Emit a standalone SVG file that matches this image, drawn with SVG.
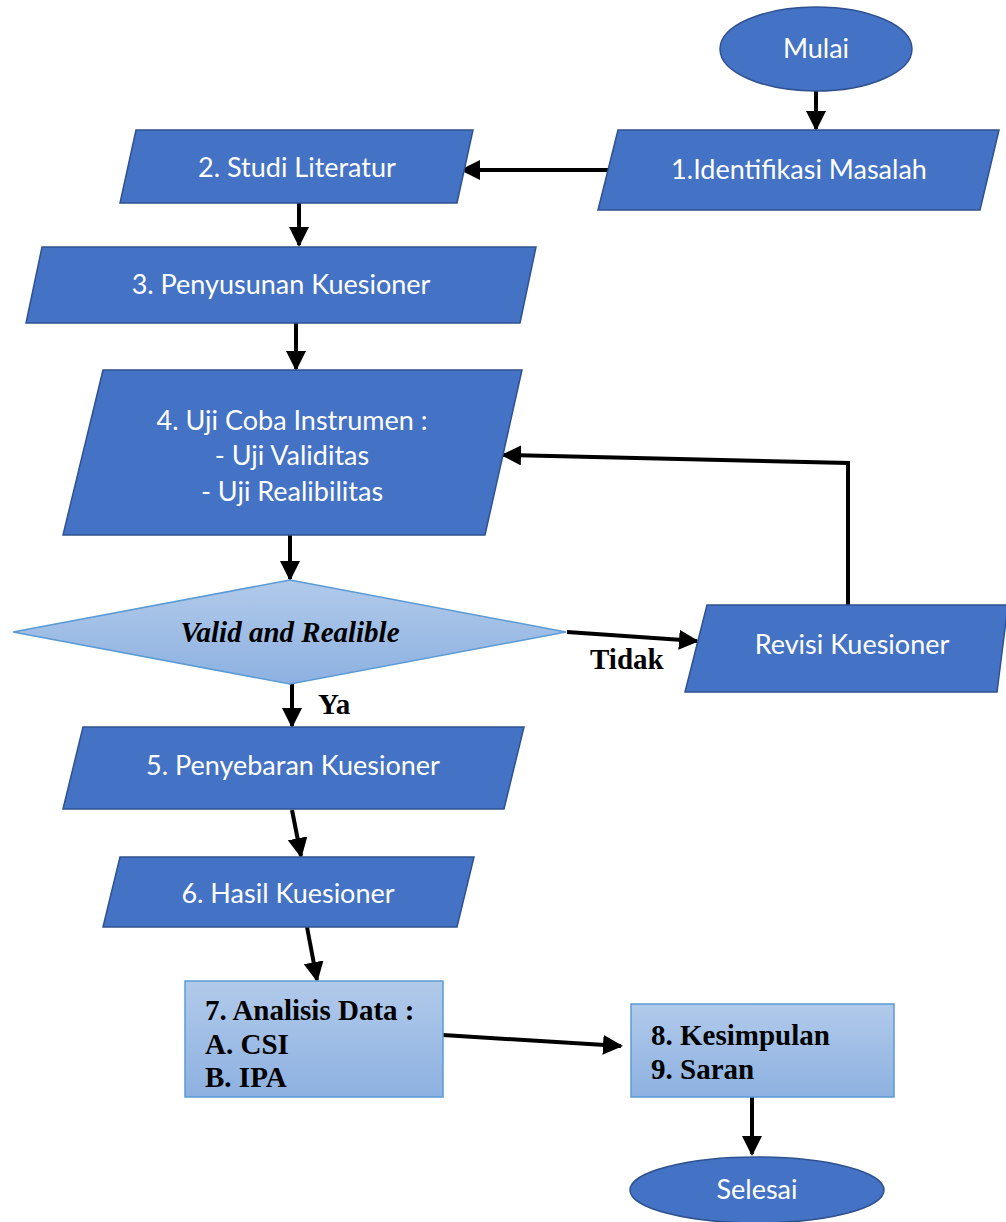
<svg xmlns="http://www.w3.org/2000/svg" width="1006" height="1222" viewBox="0 0 1006 1222">
<style>
.dk{fill:#4472C4;stroke:#2F528F;stroke-width:1.5}
.lt{fill:url(#lg);stroke:#5B9BD5;stroke-width:1.5}
.wt{font-family:Lato,"Noto Sans",sans-serif;font-size:27px;fill:#fff;text-anchor:middle}
.bt{font-family:"Liberation Serif","Times New Roman",serif;font-weight:bold;font-size:29px;fill:#000}
.cn{fill:none;stroke:#000;stroke-width:4}
</style>
<defs>
<linearGradient id="lg" x1="0" y1="0" x2="0" y2="1">
<stop offset="0" stop-color="#B1CAEA"/>
<stop offset="1" stop-color="#8DB1E1"/>
</linearGradient>
<marker id="ah" markerWidth="5" markerHeight="5" refX="4.5" refY="2.5" orient="auto" markerUnits="strokeWidth">
<path d="M0,0 L5,2.5 L0,5 z" fill="#000"/>
</marker>
</defs>
<rect width="1006" height="1222" fill="#fff"/>
<g id="connectors">
<line class="cn" x1="816" y1="91" x2="816" y2="129" marker-end="url(#ah)"/>
<line class="cn" x1="609" y1="170" x2="462" y2="170" marker-end="url(#ah)"/>
<line class="cn" x1="299" y1="203" x2="299" y2="245" marker-end="url(#ah)"/>
<line class="cn" x1="296" y1="323" x2="296" y2="369" marker-end="url(#ah)"/>
<polyline class="cn" points="848,605 848,463 503,455" marker-end="url(#ah)"/>
<line class="cn" x1="290" y1="535" x2="290" y2="579" marker-end="url(#ah)"/>
<line class="cn" x1="567" y1="632" x2="697" y2="641" marker-end="url(#ah)"/>
<line class="cn" x1="292" y1="684" x2="292" y2="726" marker-end="url(#ah)"/>
<line class="cn" x1="292" y1="810" x2="301" y2="856" marker-end="url(#ah)"/>
<line class="cn" x1="307" y1="927" x2="317" y2="980" marker-end="url(#ah)"/>
<line class="cn" x1="443" y1="1035" x2="621" y2="1046" marker-end="url(#ah)"/>
<line class="cn" x1="752" y1="1097" x2="752" y2="1154" marker-end="url(#ah)"/>
</g>
<g id="mulai">
<ellipse class="dk" cx="816" cy="49" rx="96" ry="42"/>
<text class="wt" x="816" y="58">Mulai</text>
</g>
<g id="n1">
<polygon class="dk" points="618,130 999,130 980,210 598,210"/>
<text class="wt" x="799" y="179">1.Identifikasi Masalah</text>
</g>
<g id="n2">
<polygon class="dk" points="136,130 473,130 457,203 120,203"/>
<text class="wt" x="297" y="177">2. Studi Literatur</text>
</g>
<g id="n3">
<polygon class="dk" points="42,247 536,247 520,323 26,323"/>
<text class="wt" x="281" y="294">3. Penyusunan Kuesioner</text>
</g>
<g id="n4">
<polygon class="dk" points="103,370 522,370 485,535 63,535"/>
<text class="wt" x="292" y="430">4. Uji Coba Instrumen :</text>
<text class="wt" x="292" y="465">- Uji Validitas</text>
<text class="wt" x="292" y="501">- Uji Realibilitas</text>
</g>
<g id="decision">
<polygon class="lt" points="290,580 566,632 290,684 13,632"/>
<text x="290" y="642" font-family="Liberation Serif,serif" font-weight="bold" font-style="italic" font-size="29" text-anchor="middle" fill="#000">Valid and Realible</text>
</g>
<g id="revisi">
<polygon class="dk" points="707,605 1008,605 997,692 685,692"/>
<text class="wt" x="852" y="654">Revisi Kuesioner</text>
</g>
<text class="bt" x="590" y="669" font-size="27">Tidak</text>
<text class="bt" x="318" y="714" font-size="28">Ya</text>
<g id="n5">
<polygon class="dk" points="83,727 524,727 504,809 63,809"/>
<text class="wt" x="293" y="775">5. Penyebaran Kuesioner</text>
</g>
<g id="n6">
<polygon class="dk" points="120,857 474,857 457,927 103,927"/>
<text class="wt" x="288" y="903">6. Hasil Kuesioner</text>
</g>
<g id="n7">
<rect class="lt" x="185" y="981" width="258" height="116"/>
<text class="bt" x="205" y="1020">7. Analisis Data :</text>
<text class="bt" x="205" y="1054">A. CSI</text>
<text class="bt" x="205" y="1087">B. IPA</text>
</g>
<g id="n8">
<rect class="lt" x="631" y="1004" width="263" height="93"/>
<text class="bt" x="651" y="1045">8. Kesimpulan</text>
<text class="bt" x="651" y="1079">9. Saran</text>
</g>
<g id="selesai">
<ellipse class="dk" cx="757" cy="1190" rx="127" ry="33"/>
<text class="wt" x="757" y="1199">Selesai</text>
</g>
</svg>
